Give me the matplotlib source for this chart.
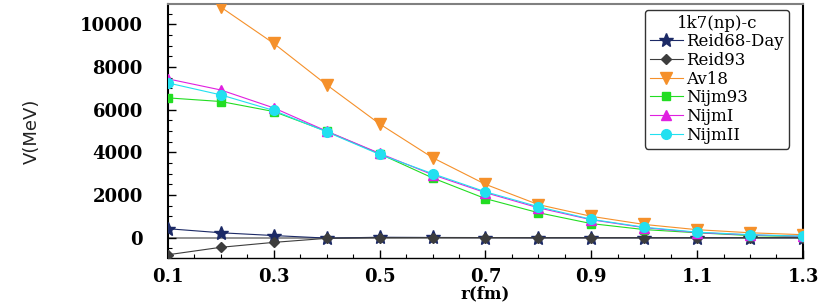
import matplotlib
matplotlib.use("Agg")
import matplotlib.pyplot as plt
from matplotlib.ticker import MultipleLocator

r = [0.1, 0.2, 0.3, 0.4, 0.5, 0.6, 0.7, 0.8, 0.9, 1.0, 1.1, 1.2, 1.3]
reid68 = [420, 230, 100, -20, 20, 10, 5, 0, 0, 0, 0, 0, 0]
reid93 = [-800, -450, -220, -30, 0, 5, 5, 0, 0, 0, 0, 0, 0]
av18 = [13000, 10800, 9100, 7160, 5330, 3750, 2500, 1550, 1000, 620, 375, 230, 140]
nijm93 = [6550, 6380, 5910, 4980, 3930, 2800, 1830, 1170, 660, 380, 230, 100, 50]
nijm1 = [7440, 6920, 6080, 4990, 3950, 2950, 2110, 1400, 840, 470, 240, 130, 60]
nijm2 = [7250, 6690, 5960, 4960, 3900, 3000, 2150, 1450, 860, 490, 260, 140, 70]

labels = ["Reid68-Day", "Reid93", "Av18", "Nijm93", "NijmI", "NijmII"]
series = [reid68, reid93, av18, nijm93, nijm1, nijm2]
colors = ["#1c2a66", "#3d3d3d", "#f5902a", "#22dd22", "#e020e0", "#22e0f0"]
markers = ["*", "D", "v", "s", "^", "o"]
msizes = [10, 5.5, 8, 6, 7.5, 7]


def generate_plot():
    fig = plt.figure(figsize=(8.3, 3.06), dpi=100)
    ax = fig.add_axes([0.2024, 0.157, 0.765, 0.83])

    ax.axhline(0, color="#808080", lw=1.2, zorder=1)
    for y, lab, c, m, ms in zip(series, labels, colors, markers, msizes):
        ax.plot(r, y, color=c, marker=m, markersize=ms, lw=0.8,
                label=lab, zorder=3)

    ax.set_xlim(0.1, 1.3)
    ax.set_ylim(-950, 10950)
    ax.xaxis.set_minor_locator(MultipleLocator(0.05))
    ax.yaxis.set_minor_locator(MultipleLocator(500))
    ax.tick_params(which="both", direction="in", top=False, right=False)
    ax.tick_params(which="major", length=6, width=1)
    ax.tick_params(which="minor", length=3, width=0.8)

    tick_font = dict(family="DejaVu Serif", weight="bold", size=13)
    ax.set_xticks([0.1, 0.3, 0.5, 0.7, 0.9, 1.1, 1.3])
    ax.set_xticklabels(["0.1", "0.3", "0.5", "0.7", "0.9", "1.1", "1.3"], **tick_font)
    ax.set_yticks([0, 2000, 4000, 6000, 8000, 10000])
    ax.set_yticklabels(["0", "2000", "4000", "6000", "8000", "10000"], **tick_font)
    ax.tick_params(axis="x", pad=7)
    ax.tick_params(axis="y", pad=18)

    ax.spines["top"].set_color("#808080")
    ax.spines["top"].set_linewidth(1.5)
    ax.spines["left"].set_linewidth(1.5)
    ax.spines["bottom"].set_linewidth(1.0)
    ax.spines["right"].set_linewidth(1.5)

    ax.set_xlabel("r(fm)", family="DejaVu Serif", weight="bold", size=12, labelpad=0)
    ax.set_ylabel("V(MeV)", family="DejaVu Sans", size=13, color="#222222", labelpad=28)

    leg = ax.legend(loc="upper right", bbox_to_anchor=(0.978, 0.978), borderaxespad=0,
                    title="1k7(np)-c", fancybox=True, framealpha=1, edgecolor="#333333",
                    handlelength=2.0, handletextpad=0.2, labelspacing=0.1,
                    borderpad=0.3, prop=dict(family="DejaVu Serif", size=12),
                    title_fontproperties=dict(family="DejaVu Serif", size=12))
    leg.get_frame().set_linewidth(1.0)

    fig.savefig("out.png", dpi=100)


if __name__ == "__main__":
    generate_plot()
